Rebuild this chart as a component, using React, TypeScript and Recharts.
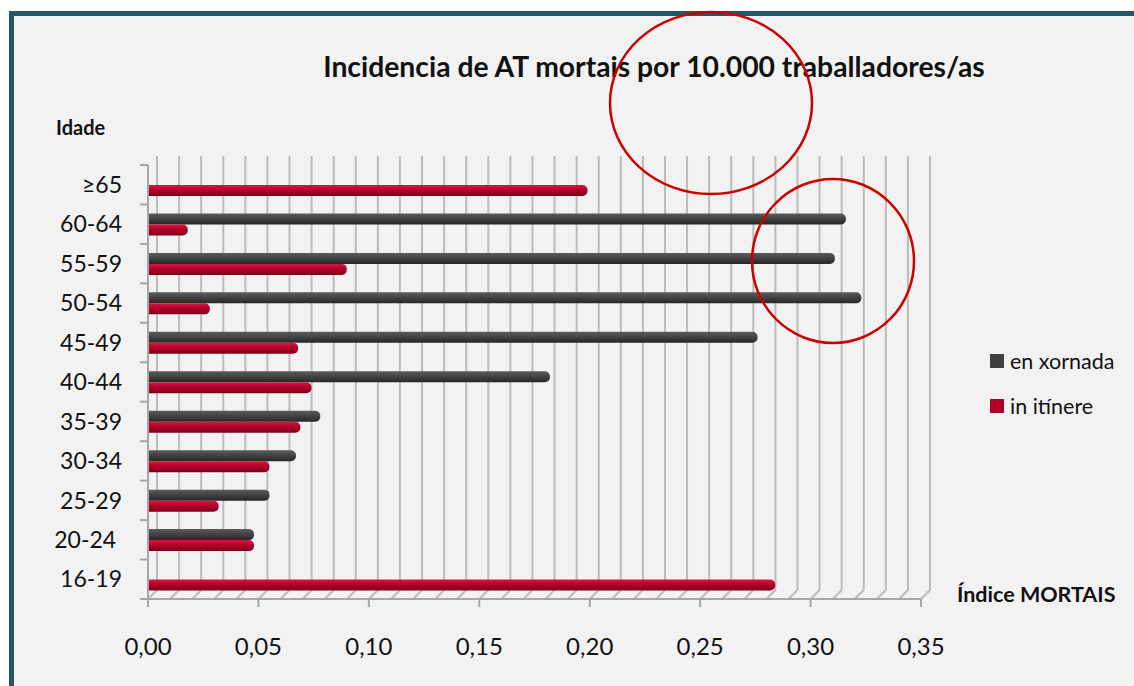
import React from 'react';
import { BarChart, Bar, XAxis, YAxis, CartesianGrid } from 'recharts';

// age groups, top to bottom as in the chart
const categories = ['≥65', '60-64', '55-59', '50-54', '45-49', '40-44', '35-39', '30-34', '25-29', '20-24\u00a0', '16-19'];
const enXornada = [0, 0.316, 0.311, 0.323, 0.276, 0.182, 0.078, 0.067, 0.055, 0.048, 0];
const inItinere = [0.199, 0.018, 0.09, 0.028, 0.068, 0.074, 0.069, 0.055, 0.032, 0.048, 0.284];
const xTicks = [0, 0.05, 0.1, 0.15, 0.2, 0.25, 0.3, 0.35];
const gridTicks = Array.from({ length: 36 }, (_, i) => i / 100);

const SERIES = [
  { key: 'xornada', name: 'en xornada', color: '#404040', grad: 'gradXornada' },
  { key: 'itinere', name: 'in itínere', color: '#b0002a', grad: 'gradItinere' },
];

const data = categories.map((name, i) => ({ name, xornada: enXornada[i], itinere: inItinere[i] }));

const FONT = 'Lato, "Open Sans", sans-serif';
const DEPTH = 9; // 3D back wall offset
const GRID = '#bcbcbc';
const AXIS = '#a6a6a6';

const fmt = (v: number) => v.toFixed(2).replace('.', ',');

export default function App() {
  const gridX = ({ xAxis, offset }: any) =>
    gridTicks.map((v) =>
      xAxis && typeof xAxis.scale === 'function' ? xAxis.scale(v) : offset.left + (v / 0.35) * offset.width
    );
  const gridY = ({ offset }: any) =>
    Array.from({ length: categories.length + 1 }, (_, i) => offset.top + (i * offset.height) / categories.length);

  return (
    <div style={{ position: 'absolute', left: 0, top: 0, width: 1134, height: 686, background: '#fff', overflow: 'hidden', fontFamily: FONT }}>
      <div style={{ position: 'absolute', left: 9, top: 11, right: -20, bottom: -20, borderLeft: '5px solid #215968', borderTop: '5px solid #215968', background: '#f2f2f2' }} />

      <div style={{ position: 'absolute', left: 654, top: 49, transform: 'translateX(-50%)', fontSize: 28.3, fontWeight: 700, color: '#111', whiteSpace: 'nowrap' }}>
        Incidencia de AT mortais por 10.000 traballadores/as
      </div>
      <div style={{ position: 'absolute', left: 56, top: 115, fontSize: 20, fontWeight: 700, color: '#111' }}>Idade</div>
      <div style={{ position: 'absolute', left: 957, top: 581, fontSize: 21.5, fontWeight: 700, color: '#111', whiteSpace: 'nowrap' }}>Índice MORTAIS</div>

      <BarChart
        width={1134}
        height={686}
        data={data}
        layout="vertical"
        margin={{ top: 165, right: 213, left: 0, bottom: 0 }}
        barSize={11}
        barGap={0}
        style={{ position: 'absolute', left: 0, top: 0, fontFamily: FONT }}
      >
        <defs>
          <linearGradient id="gradXornada" x1="0" y1="0" x2="0" y2="1">
            <stop offset="0%" stopColor="#5c5c5c" />
            <stop offset="45%" stopColor="#444" />
            <stop offset="100%" stopColor="#262626" />
          </linearGradient>
          <linearGradient id="gradItinere" x1="0" y1="0" x2="0" y2="1">
            <stop offset="0%" stopColor="#d21a40" />
            <stop offset="45%" stopColor="#b5002b" />
            <stop offset="100%" stopColor="#7c0018" />
          </linearGradient>
        </defs>
        <CartesianGrid
          verticalCoordinatesGenerator={gridX}
          horizontalCoordinatesGenerator={gridY}
          vertical={(p: any) => (
            <path
              key={`v-${p.index}-${p.x1}`}
              d={`M${p.x1 + DEPTH},${p.y1 - DEPTH}L${p.x1 + DEPTH},${p.y2 - DEPTH}L${p.x1},${p.y2}`}
              stroke={GRID}
              strokeWidth={2}
              fill="none"
            />
          )}
          horizontal={(p: any) => (
            <line key={`h-${p.index}-${p.y1}`} x1={p.x1 - 8} x2={p.x1} y1={p.y1} y2={p.y1} stroke={AXIS} strokeWidth={2} />
          )}
        />
        <XAxis
          type="number"
          domain={[0, 0.35]}
          ticks={xTicks}
          tickFormatter={fmt}
          height={87}
          stroke={AXIS}
          strokeWidth={2}
          tickSize={8}
          tickMargin={31}
          tick={{ fill: '#111', fontSize: 24 }}
        />
        <YAxis
          type="category"
          dataKey="name"
          width={148}
          stroke={AXIS}
          strokeWidth={2}
          tickLine={false}
          tickSize={0}
          tickMargin={26}
          tick={{ fill: '#111', fontSize: 23 }}
        />
        {SERIES.map((s) => (
          <Bar
            key={s.key}
            dataKey={s.key}
            name={s.name}
            fill={`url(#${s.grad})`}
            radius={[0, 5, 5, 0]}
            isAnimationActive={false}
          />
        ))}
      </BarChart>

      {/* legend */}
      <div style={{ position: 'absolute', left: 990, top: 338 }}>
        {SERIES.map((s) => (
          <div key={s.key} style={{ display: 'flex', alignItems: 'center', height: 45, fontSize: 21.5, color: '#111' }}>
            <span style={{ width: 14, height: 14, background: s.color, marginRight: 6, display: 'inline-block' }} />
            {s.name}
          </div>
        ))}
      </div>

      {/* red annotation circles */}
      <svg width={1134} height={686} style={{ position: 'absolute', left: 0, top: 0, pointerEvents: 'none' }}>
        <ellipse cx={711} cy={103} rx={101} ry={91} fill="none" stroke="#cc0000" strokeWidth={2.5} />
        <ellipse cx={833} cy={261} rx={81} ry={82} fill="none" stroke="#cc0000" strokeWidth={2.5} />
      </svg>
    </div>
  );
}
